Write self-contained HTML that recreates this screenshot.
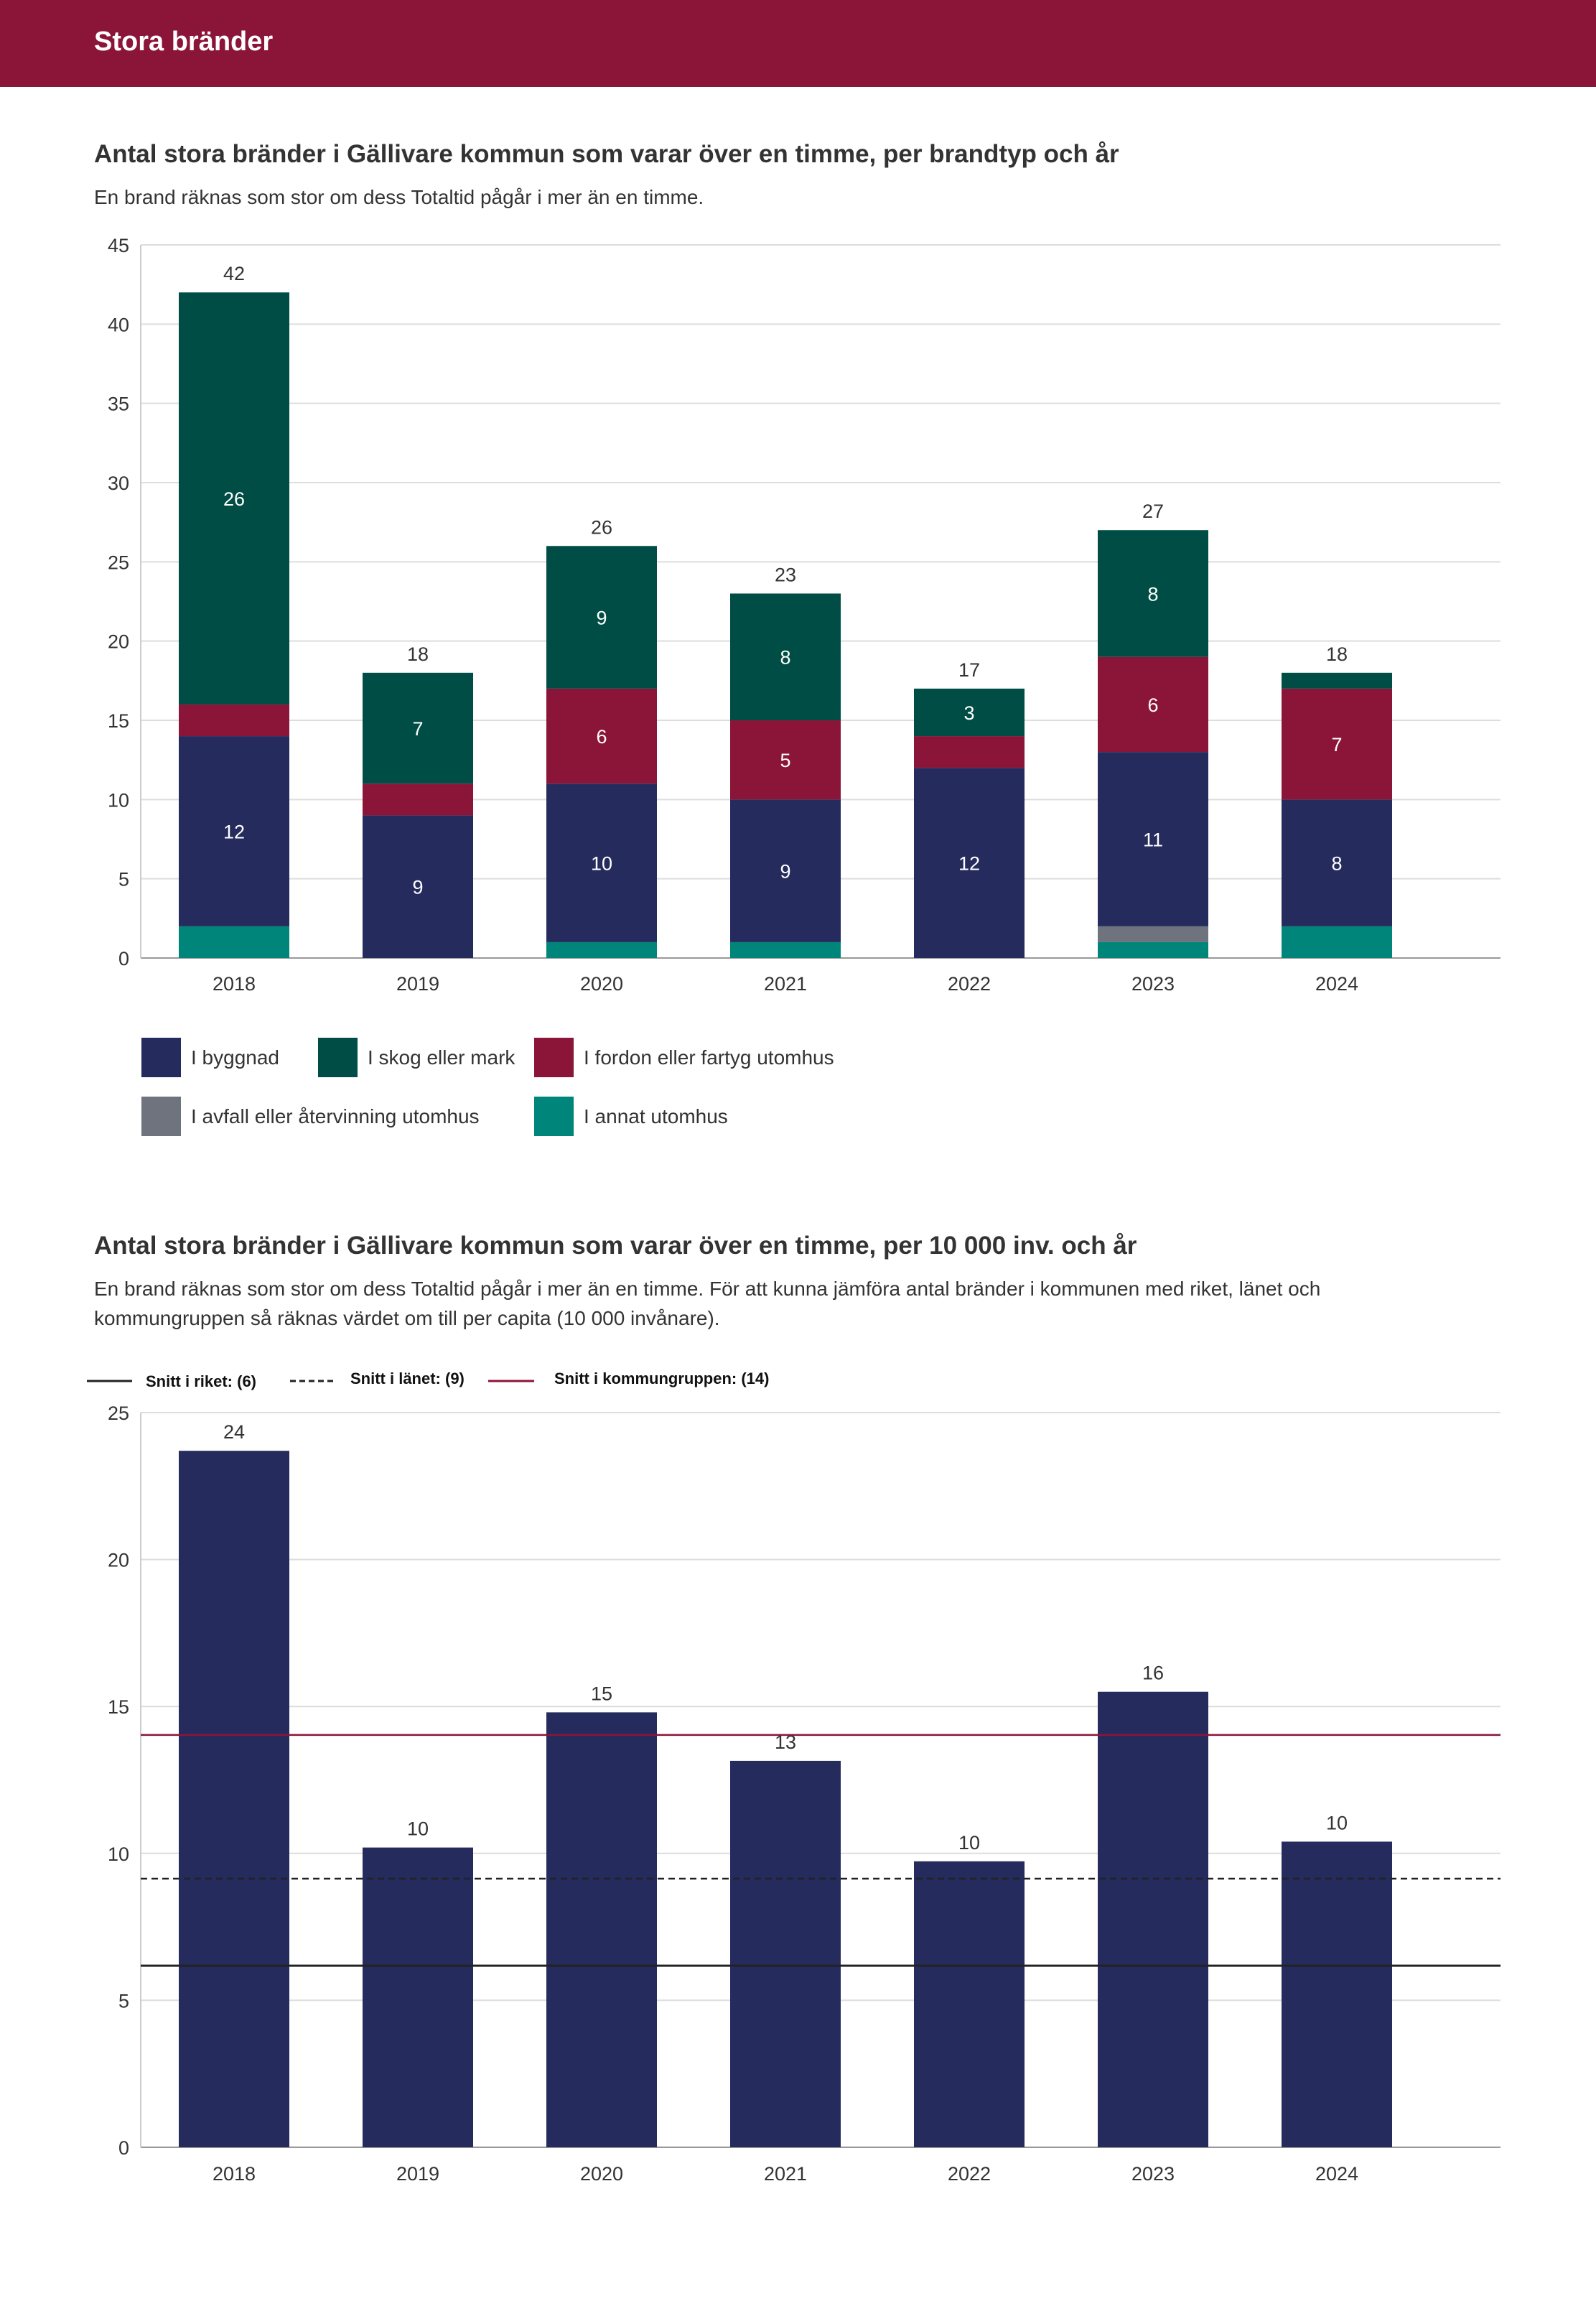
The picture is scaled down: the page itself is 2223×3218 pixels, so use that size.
<!DOCTYPE html>
<html><head><meta charset="utf-8">
<style>
body{margin:0;width:2223px;height:3213px;background:#fff;font-family:"Liberation Sans",sans-serif;overflow:hidden}
svg text{font-family:"Liberation Sans",sans-serif}
</style></head>
<body>
<svg id="s" width="2223" height="3213" xmlns="http://www.w3.org/2000/svg">
<rect x="0" y="0" width="2223" height="121" fill="#8B1538"/>
<text x="131" y="70" font-size="38" font-weight="bold" fill="#fff">Stora bränder</text>
<text x="131" y="226" font-size="35" font-weight="bold" fill="#333">Antal stora bränder i Gällivare kommun som varar över en timme, per brandtyp och år</text>
<text x="131" y="284" font-size="28" fill="#333">En brand räknas som stor om dess Totaltid pågår i mer än en timme.</text>
<g id="c1"></g>
<g id="l1"></g>
<text x="131" y="1746" font-size="35" font-weight="bold" fill="#333">Antal stora bränder i Gällivare kommun som varar över en timme, per 10 000 inv. och år</text>
<text x="131" y="1804" font-size="28" fill="#333">En brand räknas som stor om dess Totaltid pågår i mer än en timme. För att kunna jämföra antal bränder i kommunen med riket, länet och</text>
<text x="131" y="1845" font-size="28" fill="#333">kommungruppen så räknas värdet om till per capita (10 000 invånare).</text>
<g>
<line x1="121" y1="1923" x2="184" y2="1923" stroke="#222" stroke-width="3"/>
<text x="203" y="1931" font-size="22" font-weight="bold" fill="#111">Snitt i riket: (6)</text>
<line x1="404" y1="1923" x2="465" y2="1923" stroke="#222" stroke-width="3" stroke-dasharray="8,5"/>
<text x="488" y="1927" font-size="22" font-weight="bold" fill="#111">Snitt i länet: (9)</text>
<line x1="680" y1="1923" x2="744" y2="1923" stroke="#8B1538" stroke-width="3"/>
<text x="772" y="1927" font-size="22" font-weight="bold" fill="#111">Snitt i kommungruppen: (14)</text>
</g>
<g id="c2"></g>
</svg>
<script>
const years=["2018","2019","2020","2021","2022","2023","2024"];
const annat=[2,0,1,1,0,1,2];
const avfall=[0,0,0,0,0,1,0];
const byggnad=[12,9,10,9,12,11,8];
const fordon=[2,2,6,5,2,6,7];
const skog=[26,7,9,8,3,8,1];
const ticks1=[0,5,10,15,20,25,30,35,40,45];
const perCapita=[23.7,10.2,14.8,13.15,9.73,15.5,10.4];
const ticks2=[0,5,10,15,20,25];
const riket=6.18, lanet=9.14, kommungrupp=14.03;

const NS="http://www.w3.org/2000/svg";
function mk(p,tag,at,txt){const e=document.createElementNS(NS,tag);for(const k in at)e.setAttribute(k,at[k]);if(txt!==undefined)e.textContent=txt;p.appendChild(e);return e;}
const L=196,R=2090,BW=154;
const xc=i=>326+i*256;

// chart 1
const c1=document.getElementById('c1');
const y1=v=>1334-v*(1334-341)/45;
ticks1.forEach(t=>{
 const g=mk(c1,'line',{x1:L,x2:R,y1:y1(t),y2:y1(t),stroke:t==0?'#999':'#ddd','stroke-width':2});
 
 const tx=mk(c1,'text',{x:180,y:y1(t)+10,'font-size':27,fill:'#333','text-anchor':'end'},t);
 
});
const ax=mk(c1,'line',{x1:L,x2:L,y1:341,y2:1334,stroke:'#ccc','stroke-width':2});

const series=[["annat",annat,"#00857A"],["avfall",avfall,"#6E737D"],["byggnad",byggnad,"#252B5C"],["fordon",fordon,"#8B1538"],["skog",skog,"#004D45"]];
years.forEach((yr,i)=>{
 let acc=0;
 series.forEach(([n,arr,col])=>{
  const v=arr[i]; if(!v) return;
  const r=mk(c1,'rect',{x:xc(i)-BW/2,y:y1(acc+v),width:BW,height:y1(acc)-y1(acc+v),fill:col});
  
  if(v>=3){const t=mk(c1,'text',{x:xc(i),y:(y1(acc)+y1(acc+v))/2+10,'font-size':27,fill:'#fff','text-anchor':'middle'},v);
   }
  acc+=v;
 });
 const tt=mk(c1,'text',{x:xc(i),y:y1(acc)-17,'font-size':27,fill:'#333','text-anchor':'middle'},acc);
 
 const xl=mk(c1,'text',{x:xc(i),y:1379,'font-size':27,fill:'#333','text-anchor':'middle'},yr);
 
});
// legend 1
const l1=document.getElementById('l1');
[["I byggnad","#252B5C",197,1445],["I skog eller mark","#004D45",443,1445],["I fordon eller fartyg utomhus","#8B1538",744,1445],
 ["I avfall eller återvinning utomhus","#6E737D",197,1527],["I annat utomhus","#00857A",744,1527]].forEach(([lab,col,x,y])=>{
 const r=mk(l1,'rect',{x:x,y:y,width:55,height:55,fill:col});
 
 const t=mk(l1,'text',{x:x+69,y:y+37,'font-size':28,fill:'#333'},lab);
 
});

// chart 2
const c2=document.getElementById('c2');
const y2=v=>2990-v*(2990-1967)/25;
ticks2.forEach(t=>{
 const g=mk(c2,'line',{x1:L,x2:R,y1:y2(t),y2:y2(t),stroke:t==0?'#999':'#ddd','stroke-width':2});
 
 const tx=mk(c2,'text',{x:180,y:y2(t)+10,'font-size':27,fill:'#333','text-anchor':'end'},t);
 
});
const ax2=mk(c2,'line',{x1:L,x2:L,y1:1967,y2:2990,stroke:'#ccc','stroke-width':2});

years.forEach((yr,i)=>{
 const v=perCapita[i];
 const r=mk(c2,'rect',{x:xc(i)-BW/2,y:y2(v),width:BW,height:y2(0)-y2(v),fill:'#252B5C'});
 
 const t=mk(c2,'text',{x:xc(i),y:y2(v)-17,'font-size':27,fill:'#333','text-anchor':'middle'},Math.round(v));
 
 const xl=mk(c2,'text',{x:xc(i),y:3036,'font-size':27,fill:'#333','text-anchor':'middle'},yr);
 
});
const lr=mk(c2,'line',{x1:L,x2:R,y1:y2(riket),y2:y2(riket),stroke:'#222','stroke-width':3});

const ll=mk(c2,'line',{x1:L,x2:R,y1:y2(lanet),y2:y2(lanet),stroke:'#222','stroke-width':2.5,'stroke-dasharray':'9,6'});

const lk=mk(c2,'line',{x1:L,x2:R,y1:y2(kommungrupp),y2:y2(kommungrupp),stroke:'#8B1538','stroke-width':2.5});

</script>
</body></html>
